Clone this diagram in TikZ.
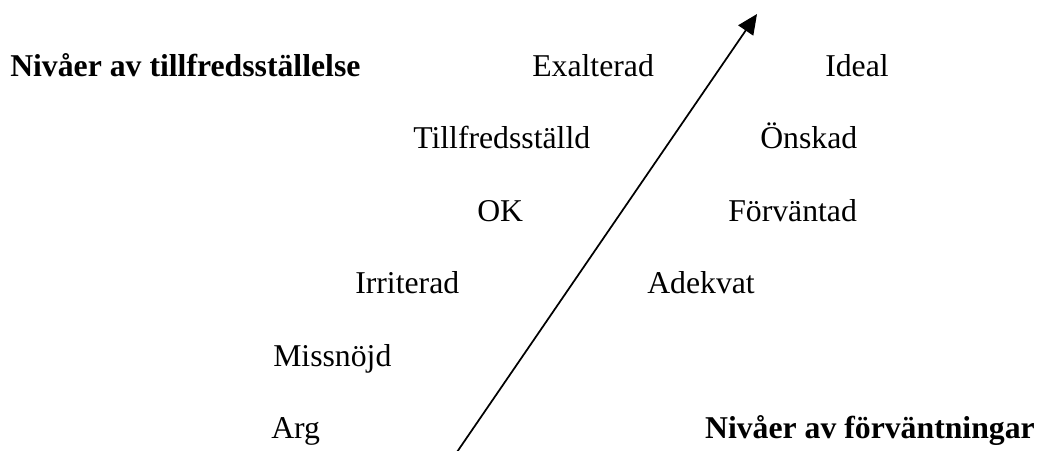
\documentclass[tikz,border=0pt]{standalone}
\usepackage{fontspec}
\setmainfont{Liberation Serif}
\usetikzlibrary{arrows.meta}
\begin{document}
\begin{tikzpicture}[x=0.75pt,y=-0.75pt,
  lbl/.style={anchor=base west,inner sep=0pt,font=\fontsize{23.8}{28}\selectfont},
  head/.style={lbl,font=\fontsize{23.8}{28}\selectfont\bfseries},
  axis/.style={line width=1.3pt,-{Triangle[length=15pt,width=13.5pt]}}]
\useasboundingbox (0,0) rectangle (1039,450);
% satisfaction levels (left column)
\node[head] (sat) at (10,76) {Nivåer av tillfredsställelse};
\node[lbl] (exal) at (532,76) {Exalterad};
\node[lbl] (till) at (413,148.5) {Tillfredsställd};
\node[lbl] (ok) at (477,221) {OK};
\node[lbl] (irr) at (355,293.5) {Irriterad};
\node[lbl] (miss) at (273,366) {Missnöjd};
\node[lbl] (arg) at (271,438.5) {Arg};
% expectation levels (right column)
\node[lbl] (ideal) at (825,76) {Ideal};
\node[lbl] (onsk) at (760,148.5) {Önskad};
\node[lbl] (forv) at (728,221) {Förväntad};
\node[lbl] (adek) at (647,293.5) {Adekvat};
\node[head,anchor=base east] (exp) at (1035,438.5) {Nivåer av förväntningar};
% diagonal axis
\coordinate (lo) at (457,452);
\coordinate (hi) at (757,14);
\draw[axis] (lo) -- (hi);
\end{tikzpicture}
\end{document}
